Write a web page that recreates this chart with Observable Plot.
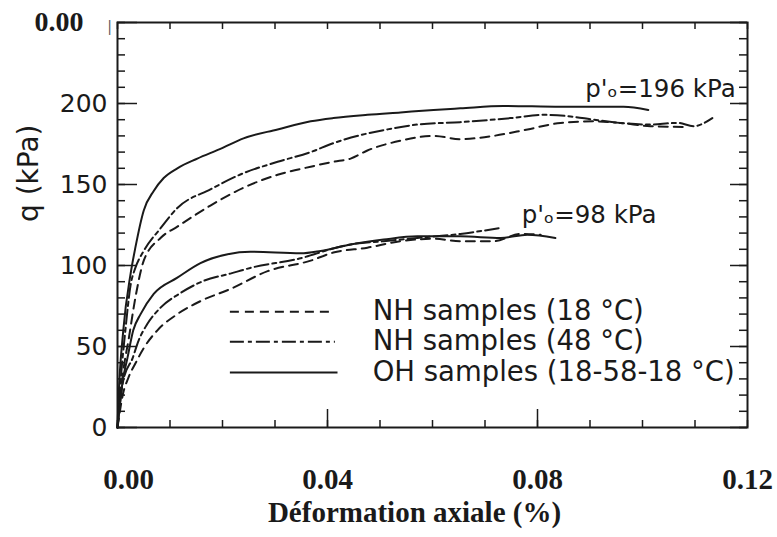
<!DOCTYPE html>
<html><head><meta charset="utf-8">
<style>html,body{margin:0;padding:0;background:#fff}</style>
<script src="https://cdn.jsdelivr.net/npm/d3@7"></script>
<script src="https://cdn.jsdelivr.net/npm/@observablehq/plot@0.6"></script>
</head><body><div id="chart"></div><script>
// ---- data (strain, q) ----
const nh18_196 = [[0,0],[0.0011,35],[0.0021,54],[0.0034,80],[0.005,103],[0.0082,117],[0.0114,124],[0.0177,137],[0.024,148],[0.0305,156],[0.0368,161],[0.0411,164],[0.0444,166],[0.0476,171],[0.0539,177],[0.0602,180],[0.0653,178],[0.0716,180],[0.0781,184],[0.0844,188],[0.0907,189],[0.0958,188],[0.1015,186],[0.108,185.5]];
const nh48_196 = [[0,0],[0.0006,29],[0.0015,60],[0.0025,88],[0.0034,98.5],[0.005,109],[0.0082,123],[0.0114,135.5],[0.0177,147],[0.024,157],[0.0305,164],[0.0368,170],[0.0411,175.5],[0.0476,181.5],[0.0514,184],[0.0571,187],[0.0653,188.5],[0.0749,191],[0.0811,193],[0.0863,192],[0.0907,190],[0.0958,188],[0.101,187],[0.1067,188],[0.1097,186],[0.1133,191]];
const oh_196 = [[0,0],[0.0002,18],[0.0011,60],[0.0025,95],[0.0034,111],[0.005,134],[0.0069,146],[0.0088,154],[0.0114,160],[0.0152,166],[0.0196,172],[0.024,178.5],[0.0305,184],[0.0368,189],[0.0411,191],[0.0476,193],[0.0539,194.5],[0.0602,196],[0.0653,197],[0.0735,198.5],[0.0844,198],[0.0964,198],[0.1011,196]];
const nh18_98 = [[0,0],[0.001,20],[0.0021,31],[0.0034,39.5],[0.005,49],[0.0076,60],[0.0114,70],[0.0158,78],[0.0215,85.5],[0.0286,96.5],[0.0368,103],[0.0411,108],[0.0476,111],[0.0539,115],[0.0602,116.5],[0.0653,115],[0.0716,115],[0.0768,119.5],[0.0806,119]];
const nh48_98 = [[0,0],[0.0011,29],[0.0029,43],[0.004,53.5],[0.0057,64],[0.0082,74],[0.012,83],[0.0164,90.5],[0.0215,95],[0.0253,98.5],[0.0349,104.5],[0.0411,110.5],[0.0444,113],[0.0507,115],[0.0571,117],[0.0653,119.5],[0.0726,123]];
const oh_98 = [[0,0],[0.001,29],[0.0019,43],[0.003,60],[0.0044,70],[0.0069,82.5],[0.0114,92.5],[0.0158,101.5],[0.021,107],[0.0253,108.5],[0.0349,107.5],[0.0387,109],[0.0444,113],[0.0507,116],[0.0571,118],[0.0653,118],[0.073,117],[0.0781,119],[0.0834,117]];

const xTickLabels = [0, 0.04, 0.08, 0.12];
const yTickLabels = [0, 50, 100, 150, 200];
const topLeftLabel = "0.00";
const legendLabels = ["NH samples (18 °C)", "NH samples (48 °C)", "OH samples (18-58-18 °C)"];
const annotLabels = ["p'ₒ=196 kPa", "p'ₒ=98 kPa"];
const xTitle = "Déformation axiale (%)";
const yTitle = "q (kPa)";

// ---- layout / style ----
const W = 777, H = 537, mL = 117, mR = 30, mT = 22, mB = 110;
const pw = W - mL - mR, ph = H - mT - mB;
const sans = "DejaVu Sans", serif = "Liberation Serif";
const ink = "#1a1a1a";
const DASH = "9,6", DASHDOT = "14,4,4,4";
const lw = 2;

const curve = (data, dash) => Plot.line(data, {x: d => d[0], y: d => d[1], stroke: ink, strokeWidth: lw, strokeDasharray: dash, curve: "monotone-x"});

const xMinor = d3.range(13).map(i => i / 100);
const yMinor = d3.range(26).map(i => i * 10);
const yMajor = [0, 50, 100, 150, 200, 250];

const chart = Plot.plot({
  width: W, height: H,
  marginLeft: mL, marginRight: mR, marginTop: mT, marginBottom: mB,
  style: {background: "#fff", color: ink},
  x: {domain: [0, 0.12]},
  y: {domain: [0, 250]},
  marks: [
    // ticks (inward)
    Plot.tickY(yMinor, {y: d => d, insetRight: pw - 8, stroke: ink, strokeWidth: 1.5}),
    Plot.tickY(yMajor, {y: d => d, insetRight: pw - 20, stroke: ink, strokeWidth: 1.5}),
    Plot.tickY(yMinor, {y: d => d, insetLeft: pw - 8, stroke: ink, strokeWidth: 1.5}),
    Plot.tickY(yMajor, {y: d => d, insetLeft: pw - 17, stroke: ink, strokeWidth: 1.5}),
    Plot.tickX(xMinor, {x: d => d, insetTop: ph - 7, stroke: ink, strokeWidth: 1.5}),
    Plot.tickX([0.04, 0.08], {x: d => d, insetTop: ph - 18, stroke: ink, strokeWidth: 1.5}),
    Plot.tickX(xMinor, {x: d => d, insetBottom: ph - 7, stroke: ink, strokeWidth: 1.5}),
    Plot.frame({stroke: ink, strokeWidth: 2}),
    // axes labels
    Plot.axisY(yTickLabels, {anchor: "left", tickSize: 0, tickPadding: 10, fontSize: 25, fontFamily: sans, fill: ink, label: null}),
    Plot.axisY([250], {anchor: "left", tickSize: 0, tickPadding: 34, tickFormat: () => topLeftLabel, fontSize: 28, fontFamily: serif, fontWeight: "bold", fill: ink, label: null}),
    Plot.axisX(xTickLabels.slice(1), {anchor: "bottom", tickSize: 0, tickPadding: 41, tickFormat: d3.format(".2f"), fontSize: 29, fontFamily: serif, fontWeight: "bold", fill: ink, label: null}),
    Plot.axisX(xTickLabels.slice(0, 1), {anchor: "bottom", tickSize: 0, tickPadding: 41, dx: 11, tickFormat: d3.format(".2f"), fontSize: 29, fontFamily: serif, fontWeight: "bold", fill: ink, label: null}),
    Plot.text([xTitle], {frameAnchor: "bottom", dy: 94, dx: -18, fontSize: 29, fontFamily: serif, fontWeight: "bold", fill: ink}),
    Plot.text([yTitle], {frameAnchor: "left", dx: -88, dy: -3, rotate: -90, fontSize: 28, fontFamily: sans, fill: ink}),
    Plot.text(["|"], {frameAnchor: "top-left", dx: -12, dy: -2, fontSize: 15, fill: "#555"}),
    // curves
    curve(nh18_196, DASH), curve(nh48_196, DASHDOT), curve(oh_196, null),
    curve(nh18_98, DASH), curve(nh48_98, DASHDOT), curve(oh_98, null),
    // annotations
    Plot.text([annotLabels[0]], {x: 0.0891, y: 209, textAnchor: "start", fontSize: 24.5, fontFamily: sans, fill: ink}),
    Plot.text([annotLabels[1]], {x: 0.077, y: 131, textAnchor: "start", fontSize: 24.5, fontFamily: sans, fill: ink}),
    // legend
    Plot.ruleY([71.5], {x1: 0.0215, x2: 0.0415, stroke: ink, strokeWidth: lw, strokeDasharray: DASH}),
    Plot.ruleY([53], {x1: 0.0215, x2: 0.0415, stroke: ink, strokeWidth: lw, strokeDasharray: DASHDOT}),
    Plot.ruleY([34], {x1: 0.0215, x2: 0.042, stroke: ink, strokeWidth: lw}),
    Plot.text(legendLabels, {x: 0.0486, y: (d, i) => [71.5, 53, 34][i], textAnchor: "start", fontSize: 27.5, fontFamily: sans, fill: ink})
  ]
});
document.getElementById("chart").append(chart);
</script></body></html>
